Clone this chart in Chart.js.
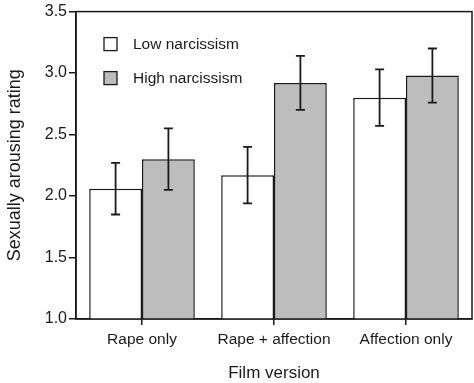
<!DOCTYPE html>
<html>
<head>
<meta charset="utf-8">
<script src="https://cdn.jsdelivr.net/npm/chart.js@4"></script>
<style>
  html, body { margin: 0; padding: 0; background: #fff; }
  #wrap { width: 474px; height: 383px; }
</style>
</head>
<body>
<div id="wrap"><canvas id="c"></canvas></div>
<script>
const categories = ['Rape only', 'Rape + affection', 'Affection only']
const seriesNames = ['Low narcissism', 'High narcissism']
const lowMeans = [2.06, 2.17, 2.80]
const highMeans = [2.30, 2.92, 2.98]
const lowErr = [0.21, 0.23, 0.23]
const highErr = [0.25, 0.22, 0.22]
const yTicks = [1.0, 1.5, 2.0, 2.5, 3.0, 3.5]

const ink = '#1a1a1a'
const fillColors = ['#ffffff', '#bdbdbd']
const FONT = 'Liberation Sans, Arial, sans-serif'

// error bars drawn from the dataset's own bar elements
const errorBars = {
    id: 'errorBars',
    afterDatasetsDraw(chart) {
        const ctx = chart.ctx
        const y = chart.scales.y
        ctx.save()
        ctx.strokeStyle = ink
        ctx.lineWidth = 1.8
        chart.data.datasets.forEach((ds, i) => {
            const meta = chart.getDatasetMeta(i)
            meta.data.forEach((bar, j) => {
                const v = ds.data[j], e = ds.errors[j]
                const top = y.getPixelForValue(v + e)
                const bot = y.getPixelForValue(v - e)
                ctx.beginPath()
                ctx.moveTo(bar.x, top); ctx.lineTo(bar.x, bot)
                ctx.moveTo(bar.x - 4.5, top); ctx.lineTo(bar.x + 4.5, top)
                ctx.moveTo(bar.x - 4.5, bot); ctx.lineTo(bar.x + 4.5, bot)
                ctx.stroke()
            })
        })
        ctx.restore()
    }
}

// frame around plot + legend inside
const frameAndLegend = {
    id: 'frameAndLegend',
    afterDraw(chart) {
        const ctx = chart.ctx
        const a = chart.chartArea
        ctx.save()
        ctx.strokeStyle = ink
        ctx.lineWidth = 1.5
        ctx.strokeRect(a.left, a.top, a.right - a.left, a.bottom - a.top)
        ctx.font = '15.5px ' + FONT
        ctx.textBaseline = 'middle'
        chart.data.datasets.forEach((ds, i) => {
            const bx = a.left + 28, by = a.top + 26 + i * 34
            ctx.fillStyle = ds.backgroundColor
            ctx.fillRect(bx, by, 13, 13)
            ctx.lineWidth = 1.3
            ctx.strokeRect(bx, by, 13, 13)
            ctx.fillStyle = ink
            ctx.fillText(ds.label, bx + 29, by + 7)
        })
        ctx.restore()
    }
}

const data = {
    labels: categories,
    datasets: [
        {label: seriesNames[0], data: lowMeans, errors: lowErr, backgroundColor: fillColors[0]},
        {label: seriesNames[1], data: highMeans, errors: highErr, backgroundColor: fillColors[1]}
    ].map(d => Object.assign(d, {
        borderColor: ink,
        borderWidth: 1.5,
        borderSkipped: 'bottom',
        barPercentage: 1.0,
        categoryPercentage: 0.8
    }))
}

new Chart(document.getElementById('c'), {
    type: 'bar',
    data: data,
    options: {
        responsive: true,
        maintainAspectRatio: false,
        animation: false,
        layout: {padding: {top: 7, right: 2, left: 0, bottom: 0}},
        plugins: {legend: {display: false}, tooltip: {enabled: false}},
        scales: {
            x: {
                grid: {offset: false, drawOnChartArea: false, tickLength: 6, color: ink, lineWidth: 1.5},
                border: {display: true, color: ink, width: 1.5},
                ticks: {color: ink, font: {family: FONT, size: 15.5}, padding: 5},
                title: {display: true, text: 'Film version', color: ink, font: {family: FONT, size: 17}, padding: {top: 18, bottom: -1}},
                afterFit(s) { s.height = 64 }
            },
            y: {
                min: 1.0,
                max: 3.5,
                afterBuildTicks(s) { s.ticks = yTicks.map(v => ({value: v})) },
                grid: {drawOnChartArea: false, tickLength: 7, color: ink, lineWidth: 1.5},
                border: {display: true, color: ink, width: 1.5},
                ticks: {color: ink, font: {family: FONT, size: 16}, padding: 2, callback: v => v.toFixed(1)},
                title: {display: true, text: 'Sexually arousing rating', color: ink, font: {family: FONT, size: 18}, padding: {bottom: 4}},
                afterFit(s) { s.width = 76 }
            }
        }
    },
    plugins: [errorBars, frameAndLegend]
})
</script>
</body>
</html>
